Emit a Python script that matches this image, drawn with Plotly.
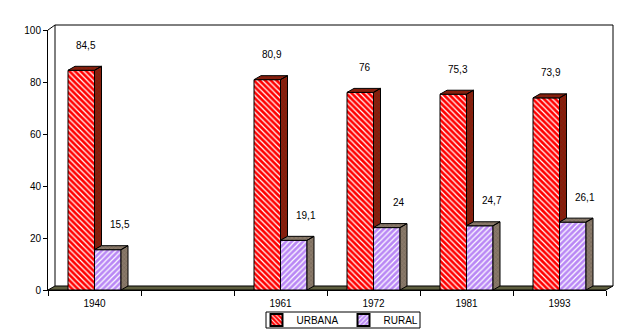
import plotly.graph_objects as go

# ---- data ----
years = ["1940", "", "1961", "1972", "1981", "1993"]
urbana = [84.5, None, 80.9, 76, 75.3, 73.9]
rural = [15.5, None, 19.1, 24, 24.7, 26.1]
series_names = ["URBANA", "RURAL"]

# ---- layout constants ----
W, H = 640, 330
L, R, T, B = 48, 34, 30, 40
PW, PH = W - L - R, H - T - B
NCAT = len(years)
XU = NCAT / PW          # x data units per pixel
YU = 100.0 / PH         # y data units per pixel
DX = 7 * XU             # bar depth (x)
DY = 4 * YU             # bar depth (y)
BW = 0.285              # bar width (data units)
FONT = "Liberation Sans, Arial, sans-serif"


def px(xp, yp):
    """pixel -> paper coords"""
    return (xp - L) / PW, (H - B - yp) / PH


def fmt(v):
    return ("%g" % v).replace(".", ",")


idx = list(range(NCAT))

fig = go.Figure()

fig.add_trace(go.Bar(
    x=idx, y=urbana, name=series_names[0], width=BW, offset=-BW,
    marker=dict(color="#ff0000", line=dict(color="black", width=1),
                pattern=dict(shape="\\", fgcolor="white", bgcolor="#ff0000",
                             size=4, solidity=0.3, fillmode="replace")),
))
fig.add_trace(go.Bar(
    x=idx, y=rural, name=series_names[1], width=BW, offset=0,
    marker=dict(color="#c090ff", line=dict(color="black", width=1),
                pattern=dict(shape="/", fgcolor="white", bgcolor="#b987f5",
                             size=4, solidity=0.3, fillmode="replace")),
))

# 3D faces built from the data
u_x, u_y, r_x, r_y = [], [], [], []
for i, (u, r) in enumerate(zip(urbana, rural)):
    if u is None:
        continue
    u_x += [i - BW, i - BW + DX, i + DX, i, i - BW, None]
    u_y += [u, u + DY, u + DY, u, u, None]
    u_x += [i, i + DX, i + DX, i, i, None]
    u_y += [r, r + DY, u + DY, u, r, None]
    r_x += [i, i + DX, i + BW + DX, i + BW, i, None]
    r_y += [r, r + DY, r + DY, r, r, None]
    r_x += [i + BW, i + BW + DX, i + BW + DX, i + BW, i + BW, None]
    r_y += [0, DY, r + DY, r, 0, None]

fig.add_trace(go.Scatter(
    x=u_x, y=u_y, mode="lines", fill="toself", fillcolor="#7a1408",
    fillpattern=dict(shape="x", fgcolor="#5a4a2a", bgcolor="#8a1a0a", size=3, solidity=0.3),
    line=dict(color="black", width=1), showlegend=False, hoverinfo="skip"))
fig.add_trace(go.Scatter(
    x=r_x, y=r_y, mode="lines", fill="toself", fillcolor="#7a6a5a",
    fillpattern=dict(shape="x", fgcolor="#5f5040", bgcolor="#8a7a6a", size=3, solidity=0.3),
    line=dict(color="black", width=1), showlegend=False, hoverinfo="skip"))

# value labels
ann = []
for i in idx:
    if urbana[i] is not None:
        ann.append(dict(x=i - BW / 2, y=urbana[i], text=fmt(urbana[i]), showarrow=False,
                        xshift=5, yshift=25, yanchor="middle",
                        font=dict(family=FONT, size=10, color="black")))
    if rural[i] is not None:
        ann.append(dict(x=i + BW / 2, y=rural[i], text=fmt(rural[i]), showarrow=False,
                        xshift=12, yshift=25, yanchor="middle",
                        font=dict(family=FONT, size=10, color="black")))


def line_shape(p1, p2):
    x0, y0 = px(*p1)
    x1, y1 = px(*p2)
    return dict(type="line", xref="paper", yref="paper", x0=x0, y0=y0, x1=x1, y1=y1,
                line=dict(color="black", width=1), layer="below")


fx = [px(48, 290), px(55, 286), px(613, 286), px(606, 290)]
floor_path = "M %f %f L %f %f L %f %f L %f %f Z" % (
    fx[0][0], fx[0][1], fx[1][0], fx[1][1], fx[2][0], fx[2][1], fx[3][0], fx[3][1])
lb0 = px(266, 328)
lb1 = px(420, 312)
shapes = [
    line_shape((55, 25), (613, 25)),
    line_shape((613, 25), (613, 286)),
    line_shape((55, 25), (55, 286)),
    line_shape((48, 30), (55, 25)),
    dict(type="path", xref="paper", yref="paper", path=floor_path,
         fillcolor="#5f5f3f", line=dict(color="black", width=1), layer="below"),
    # legend frame
    dict(type="rect", xref="paper", yref="paper", x0=lb0[0], y0=lb0[1], x1=lb1[0], y1=lb1[1],
         line=dict(color="black", width=1), fillcolor="rgba(0,0,0,0)", layer="above"),
]

fig.update_layout(
    width=W, height=H,
    margin=dict(l=L, r=R, t=T, b=B, pad=0, autoexpand=False),
    paper_bgcolor="white", plot_bgcolor="rgba(0,0,0,0)",
    barmode="overlay",
    font=dict(family=FONT, size=10, color="black"),
    showlegend=True,
    legend=dict(orientation="h", x=340 / W, y=1 - 320 / H, xref="container", yref="container",
                xanchor="center", yanchor="middle",
                borderwidth=0, bgcolor="rgba(0,0,0,0)",
                font=dict(family=FONT, size=10), itemwidth=30,
                tracegroupgap=0, itemsizing="constant"),
    annotations=ann,
    shapes=shapes,
    xaxis=dict(range=[-0.5, NCAT - 0.5], tickmode="array", tickvals=idx, ticktext=years,
               ticks="", showgrid=False, zeroline=False, showline=True,
               linecolor="black", linewidth=1, ticklabelstandoff=4,
               minor=dict(tickmode="array", tickvals=[i - 0.5 for i in range(NCAT + 1)],
                          ticks="outside", ticklen=5, tickcolor="black", showgrid=False),
               tickfont=dict(family=FONT, size=10), fixedrange=True),
    yaxis=dict(range=[0, 100], tickmode="linear", tick0=0, dtick=20,
               ticks="outside", ticklen=4, tickcolor="black",
               showgrid=False, zeroline=False, showline=True, linecolor="black",
               linewidth=1, tickfont=dict(family=FONT, size=10), fixedrange=True),
)

fig.write_html("out.html")
